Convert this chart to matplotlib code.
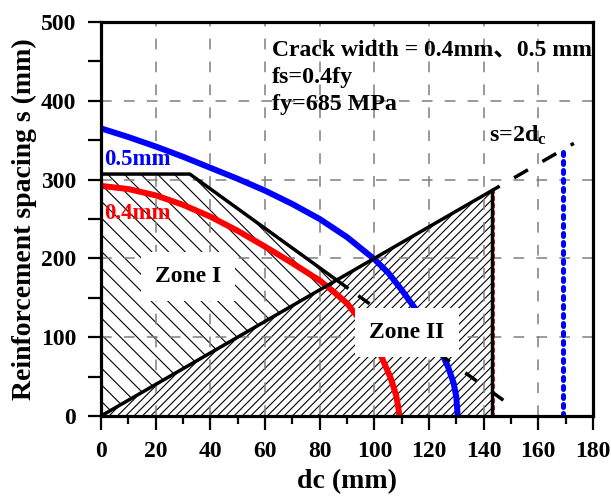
import matplotlib
matplotlib.use("Agg")
import matplotlib.pyplot as plt
from matplotlib.patches import Polygon
from matplotlib.ticker import MultipleLocator

plt.rcParams['font.family'] = ['Liberation Serif', 'Noto Sans CJK SC', 'DejaVu Sans']
plt.rcParams['font.weight'] = 'bold'
plt.rcParams['mathtext.fontset'] = 'custom'
plt.rcParams['mathtext.rm'] = 'Liberation Serif:bold'
plt.rcParams['mathtext.it'] = 'Liberation Serif:bold'
plt.rcParams['mathtext.bf'] = 'Liberation Serif:bold'
plt.rcParams['hatch.linewidth'] = 0.8

# ---- data ----
blue_dc = [0, 10, 20, 30, 40, 50, 60, 70, 80, 90, 100, 105, 110, 115, 120, 124, 127, 129, 130, 130.5]
blue_s = [365, 354, 342, 329, 315, 301, 286, 269, 250, 227, 199, 182, 160, 136, 110, 85, 62, 42, 24, 0]

red_dc = [0, 10, 20, 30, 40, 50, 60, 70, 80, 85, 90, 95, 100, 103, 106, 108, 108.8, 109.2]
red_s = [292, 288, 280, 268, 253, 235, 215, 194, 172, 158, 143, 121, 93, 72, 48, 26, 10, 0]

limit_dc = [0, 32.5, 90]          # Zone I upper bound (solid)
limit_s = [307, 307, 163]
limit_dash_dc = [90, 150]         # continuation (dashed)
limit_dash_s = [163, 13]

s2dc_dc = [0, 143]                # s = 2dc (solid)
s2dc_s = [0, 286]
s2dc_dash_dc = [143, 173]
s2dc_dash_s = [286, 346]

zone1_dc = [0, 0, 32.5, 86.3]
zone1_s = [0, 307, 307, 172.5]
zone2_dc = [0, 143, 143]
zone2_s = [0, 286, 0]

red_vert_dc = 143.3
red_vert_top = 286
blue_vert_dc = 168.9
blue_vert_top = 336

xticks = list(range(0, 181, 20))
yticks = list(range(0, 501, 100))

# ---- figure ----
fig = plt.figure(figsize=(6.11, 5.03), dpi=100)
ax = fig.add_axes([0.1653, 0.1730, 0.8052, 0.7833])
ax.set_xlim(0, 180)
ax.set_ylim(0, 500)

# hatched zones
ax.add_patch(Polygon(list(zip(zone1_dc, zone1_s)), closed=True, fc='none',
                     ec='black', lw=0, hatch='\\\\', zorder=1))
ax.add_patch(Polygon(list(zip(zone2_dc, zone2_s)), closed=True, fc='none',
                     ec='black', lw=0, hatch='////', zorder=1))

# grid
ax.grid(True, which='major', color='#7f7f7f', lw=1.1, linestyle=(0, (7, 8)), zorder=1.5)

# curves
ax.plot(blue_dc, blue_s, color='#0000ff', lw=4.3, solid_capstyle='round',
        solid_joinstyle='round', zorder=3)
ax.plot(red_dc, red_s, color='#ff0000', lw=4.3, solid_capstyle='round',
        solid_joinstyle='round', zorder=3)

ax.plot([red_vert_dc, red_vert_dc], [0, red_vert_top], color='#ff0000', lw=2.0,
        linestyle=(0, (1.0, 1.6)), dash_capstyle='round', zorder=3)
ax.plot([s2dc_dc[1], s2dc_dc[1]], [0, s2dc_s[1]], color='black', lw=2.5, zorder=4)
ax.plot([blue_vert_dc, blue_vert_dc], [0, blue_vert_top], color='#0000ff', lw=3.6,
        linestyle=(0, (0.6, 1.2)), dash_capstyle='round', zorder=3)

ax.plot(limit_dc, limit_s, color='black', lw=2.5, zorder=4)
ax.plot(limit_dash_dc, limit_dash_s, color='black', lw=2.5,
        linestyle=(5.5, (4.0, 5.5)), zorder=4)
ax.plot(s2dc_dc, s2dc_s, color='black', lw=2.5, zorder=4)
ax.plot(s2dc_dash_dc, s2dc_dash_s, color='black', lw=2.5,
        linestyle=(2.0, (4.6, 4.8)), zorder=4)

# texts
tb = dict(boxstyle='square,pad=0.6', fc='white', ec='none')
ax.text(31.8, 177, 'Zone I', fontsize=17, fontweight='bold', ha='center', va='center',
        bbox=tb, zorder=6)
ax.text(112, 106, 'Zone II', fontsize=17, fontweight='bold', ha='center', va='center',
        bbox=tb, zorder=6)

ax.text(62.5, 458, 'Crack width = 0.4mm\u30010.5 mm', fontsize=17, fontweight='bold',
        family=['Liberation Serif', 'Noto Sans CJK SC', 'DejaVu Sans'],
        ha='left', va='baseline', zorder=6)
ax.text(62.5, 422, 'fs=0.4fy', fontsize=17.3, fontweight='bold', ha='left', va='baseline', zorder=6)
ax.text(62.5, 388, 'fy=685 MPa', fontsize=17.3, fontweight='bold', ha='left', va='baseline', zorder=6)
ax.text(142, 348, 's=2d$_\\mathrm{c}$', fontsize=17.3, fontweight='bold', ha='left',
        va='baseline', zorder=6)
ax.text(1.2, 318, '0.5mm', fontsize=16.5, fontweight='bold', color='#0000ff',
        ha='left', va='baseline', zorder=6)
ax.text(1.2, 250, '0.4mm', fontsize=16.5, fontweight='bold', color='#ff0000',
        ha='left', va='baseline', zorder=6)

# axes styling
ax.xaxis.set_minor_locator(MultipleLocator(10))
ax.yaxis.set_minor_locator(MultipleLocator(50))
ax.set_xticks(xticks)
ax.set_yticks(yticks)
ax.set_xticklabels([str(v) for v in xticks])
ax.set_yticklabels([str(v) for v in yticks])

for sp in ax.spines.values():
    sp.set_linewidth(2.3)
    sp.set_zorder(7)

ax.tick_params(axis='x', which='major', direction='out', length=10, width=1.6, pad=8,
               labelsize=17, top=False)
ax.tick_params(axis='x', which='minor', direction='out', length=5.5, width=1.6, top=False)
ax.tick_params(axis='y', which='major', direction='out', length=9.4, width=1.6, pad=8.5,
               labelsize=17, right=False)
ax.tick_params(axis='y', which='minor', direction='out', length=9.4, width=1.6, right=False)
for lab in ax.get_xticklabels() + ax.get_yticklabels():
    lab.set_fontweight('bold')

ax.set_xlabel('dc (mm)', fontsize=20, fontweight='bold', labelpad=5)
ax.set_ylabel('Reinforcement spacing s (mm)', fontsize=20, fontweight='bold', labelpad=3)

fig.savefig('out.png', dpi=100)
